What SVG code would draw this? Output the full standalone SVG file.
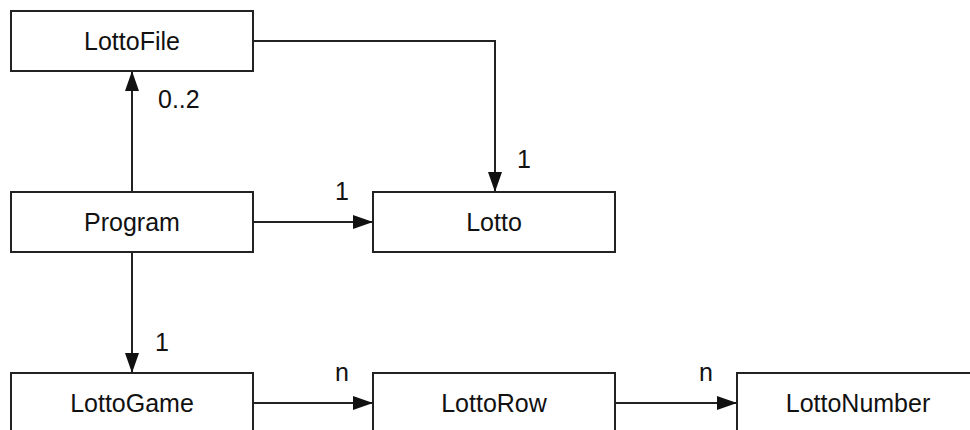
<svg xmlns="http://www.w3.org/2000/svg" width="970" height="430" viewBox="0 0 970 430">
<style>
.box{fill:#fff;stroke:#222;stroke-width:2}
.lbl{font-family:"Liberation Sans",Arial,sans-serif;font-size:25px;fill:#111}
.name{font-family:"Liberation Sans",Arial,sans-serif;font-size:25px;fill:#111;text-anchor:middle}
.edge{fill:none;stroke:#222;stroke-width:2}
</style>
<defs>
<marker id="arr" viewBox="0 0 20 14" refX="20" refY="7" markerWidth="20" markerHeight="14" markerUnits="userSpaceOnUse" orient="auto">
<path d="M0,0 L20,7 L0,14 Z" fill="#111"/>
</marker>
</defs>
<rect width="970" height="430" fill="#fff"/>
<g id="connectors">
<path class="edge" d="M253,41 H495 V192" marker-end="url(#arr)"/>
<path class="edge" d="M132,192 V71" marker-end="url(#arr)"/>
<path class="edge" d="M253,222 H373" marker-end="url(#arr)"/>
<path class="edge" d="M132,252 V373" marker-end="url(#arr)"/>
<path class="edge" d="M253,403 H373" marker-end="url(#arr)"/>
<path class="edge" d="M615,403 H737" marker-end="url(#arr)"/>
<text class="lbl" x="158" y="108">0..2</text>
<text class="lbl" x="517" y="168">1</text>
<text class="lbl" x="335" y="200">1</text>
<text class="lbl" x="155" y="351">1</text>
<text class="lbl" x="335" y="381">n</text>
<text class="lbl" x="699" y="381">n</text>
</g>
<g id="LottoFile"><rect class="box" x="11" y="11" width="242" height="60"/><text class="name" x="132" y="50">LottoFile</text></g>
<g id="Program"><rect class="box" x="11" y="192" width="242" height="60"/><text class="name" x="132" y="231">Program</text></g>
<g id="Lotto"><rect class="box" x="373" y="192" width="242" height="60"/><text class="name" x="494" y="231">Lotto</text></g>
<g id="LottoGame"><rect class="box" x="11" y="373" width="242" height="60"/><text class="name" x="132" y="412">LottoGame</text></g>
<g id="LottoRow"><rect class="box" x="373" y="373" width="242" height="60"/><text class="name" x="494" y="412">LottoRow</text></g>
<g id="LottoNumber"><rect class="box" x="737" y="373" width="242" height="60"/><text class="name" x="858" y="412">LottoNumber</text></g>
</svg>
